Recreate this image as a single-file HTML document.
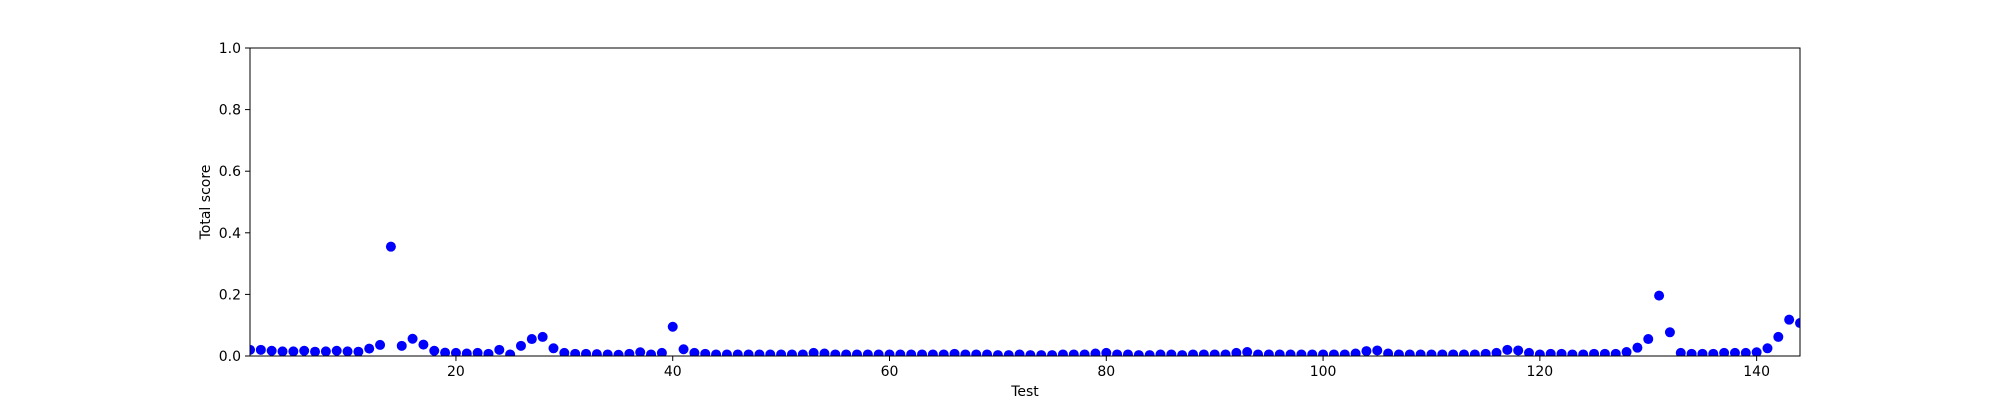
<!DOCTYPE html>
<html><head><meta charset="utf-8"><style>
body{margin:0;background:#fff;}
svg{display:block;font-family:"DejaVu Sans","Liberation Sans",sans-serif;}
</style></head><body>
<svg id="chart" width="2000" height="400">
<rect x="0" y="0" width="2000" height="400" fill="#fff"/>
<g id="marks"></g>
<g id="axes"></g>
</svg>
<script>
const tests = Array.from({length:144},(_, i)=>i+1);
const scores = [
0.02,0.02,0.017,0.015,0.015,0.017,0.014,0.015,0.017,0.015,
0.014,0.024,0.036,0.355,0.033,0.056,0.037,0.017,0.011,0.01,
0.008,0.01,0.007,0.02,0.005,0.033,0.055,0.062,0.025,0.01,
0.007,0.007,0.006,0.005,0.004,0.007,0.012,0.005,0.01,0.095,
0.022,0.01,0.007,0.005,0.005,0.005,0.005,0.005,0.005,0.005,
0.005,0.005,0.01,0.008,0.005,0.005,0.005,0.005,0.005,0.005,
0.005,0.005,0.005,0.005,0.005,0.007,0.005,0.005,0.005,0.003,
0.003,0.005,0.003,0.003,0.003,0.005,0.005,0.005,0.008,0.01,
0.005,0.005,0.003,0.003,0.005,0.005,0.003,0.005,0.005,0.005,
0.005,0.01,0.013,0.005,0.005,0.005,0.005,0.005,0.005,0.005,
0.005,0.005,0.008,0.016,0.018,0.008,0.005,0.005,0.005,0.005,
0.005,0.005,0.005,0.005,0.007,0.01,0.02,0.018,0.01,0.005,
0.007,0.007,0.005,0.005,0.007,0.007,0.007,0.013,0.027,0.055,
0.196,0.077,0.01,0.007,0.007,0.007,0.01,0.01,0.01,0.012,
0.025,0.062,0.118,0.107];
const xTicks = [20,40,60,80,100,120,140];
const yTicks = [0.0,0.2,0.4,0.6,0.8,1.0];
const L=250,R=1800,T=48,B=356, xMin=1,xMax=144,yMin=0,yMax=1;
const xs=v=>L+(v-xMin)/(xMax-xMin)*(R-L);
const ys=v=>B-(v-yMin)/(yMax-yMin)*(B-T);
const NS="http://www.w3.org/2000/svg";
const marks=document.getElementById('marks'), axes=document.getElementById('axes');
function mk(tag,attrs,parent){const e=document.createElementNS(NS,tag);for(const k in attrs)e.setAttribute(k,attrs[k]);parent.appendChild(e);return e;}
const clip=mk('clipPath',{id:'cp'},document.getElementById('chart'));
mk('rect',{x:L,y:T,width:R-L,height:B-T},clip);
marks.setAttribute('clip-path','url(#cp)');
tests.forEach((t,i)=>{
  const c=mk('circle',{cx:xs(t),cy:ys(scores[i]),r:5,fill:'#0000ff'},marks);
  
  
});
const frame=mk('rect',{x:L,y:T,width:R-L,height:B-T,fill:'none',stroke:'#000','stroke-width':1},axes);


xTicks.forEach(v=>{
  const x=xs(v);
  const tk=mk('line',{x1:x,y1:B,x2:x,y2:B+5,stroke:'#000'},axes);
  
  
  const tx=mk('text',{x:x,y:B+20,'font-size':'14','text-anchor':'middle',fill:'#000'},axes);
  tx.textContent=v;
  
  
});
yTicks.forEach(v=>{
  const y=ys(v);
  const tk=mk('line',{x1:L-5,y1:y,x2:L,y2:y,stroke:'#000'},axes);
  
  
  const tx=mk('text',{x:L-9,y:y+5,'font-size':'14','text-anchor':'end',fill:'#000'},axes);
  tx.textContent=v.toFixed(1);
  
  
});
const xl=mk('text',{x:(L+R)/2,y:396,'font-size':'14','text-anchor':'middle',fill:'#000'},axes);
xl.textContent='Test';


const yl=mk('text',{x:0,y:0,'font-size':'14','text-anchor':'middle',fill:'#000',transform:`translate(210,${(T+B)/2}) rotate(-90)`},axes);
yl.textContent='Total score';


</script>
</body></html>
